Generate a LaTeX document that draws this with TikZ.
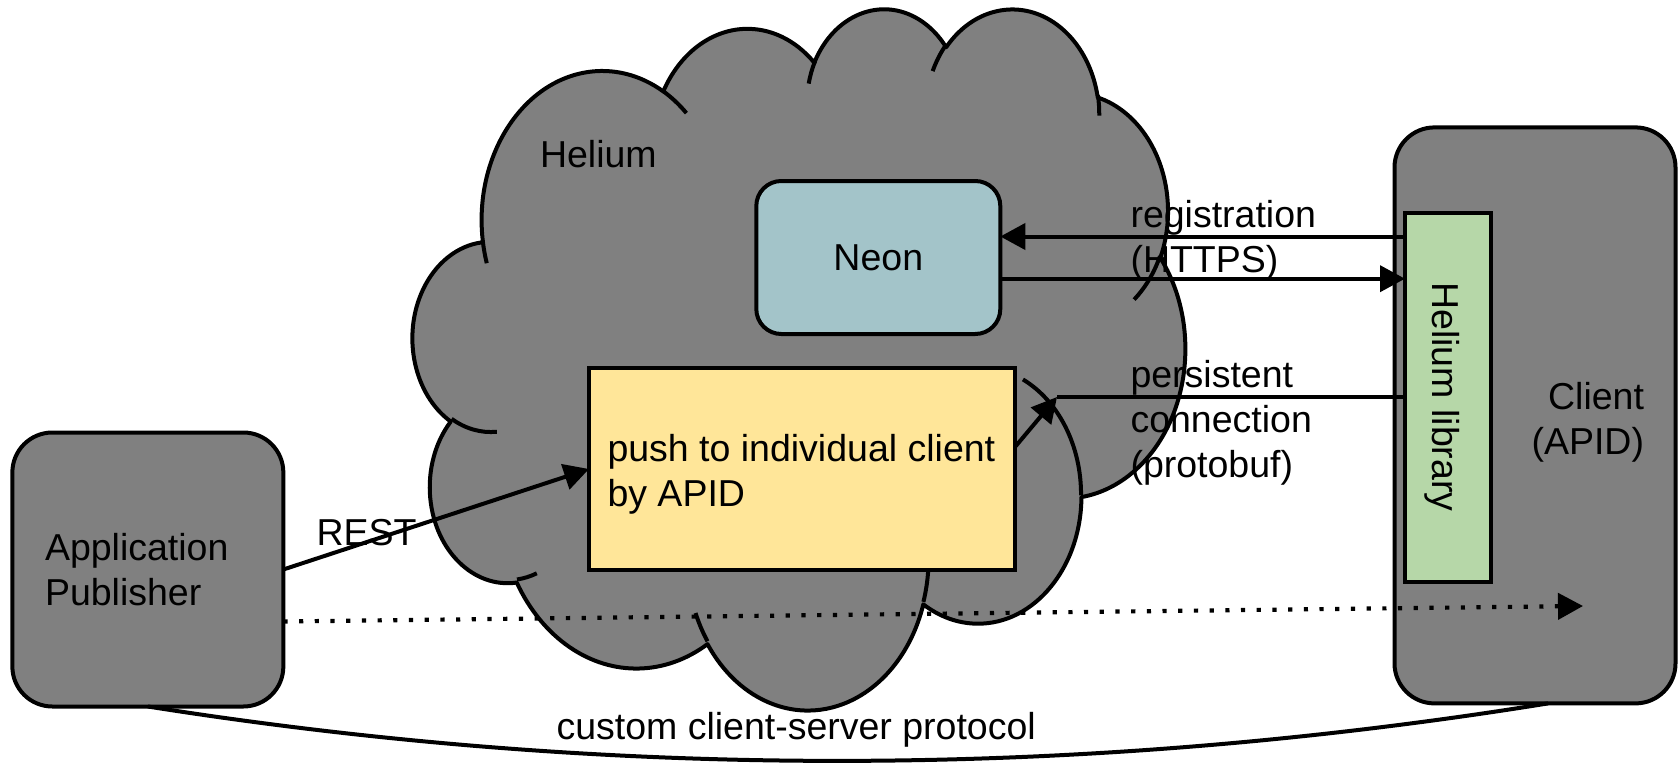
\documentclass[tikz,border=0pt]{standalone}
\usepackage{fontspec}
\setmainfont{Liberation Sans}
\usetikzlibrary{arrows.meta}
\definecolor{cloudgray}{HTML}{808080}
\definecolor{neonfill}{HTML}{A3C4C9}
\definecolor{pushfill}{HTML}{FFE699}
\definecolor{libfill}{HTML}{B6D7A8}
% visual angle -> parametric angle for an elliptic arc
\newcommand\cloudang[5]{%
  \pgfmathsetmacro\tmpts{atan2((#2)*sin(#4),(#3)*cos(#4))}%
  \pgfmathsetmacro\tmpte{atan2((#2)*sin((#4)+(#5)),(#3)*cos((#4)+(#5)))}%
  \pgfmathsetmacro\tmpdd{mod(\tmpte-\tmpts+720,360)}%
  \expandafter\let\csname ts#1\endcsname\tmpts
  \expandafter\let\csname dd#1\endcsname\tmpdd}
\begin{document}
\begin{tikzpicture}[x=1pt,y=-1pt,
  every node/.style={font=\fontsize{37.5}{45}\selectfont, inner sep=0pt, outer sep=0pt},
  outl/.style={line width=4pt, draw=black},
  graybox/.style={outl, fill=cloudgray, rounded corners=40pt},
  neonbox/.style={outl, fill=neonfill, rounded corners=25pt},
  pushbox/.style={outl, fill=pushfill},
  libbox/.style={outl, fill=libfill},
  arr/.style={line width=4pt, -{Triangle[length=25pt,width=26pt]}},
  plain/.style={line width=4pt},
  dotarr/.style={line width=4.2pt, dash pattern=on 4.2pt off 11.5pt, -{Triangle[length=25pt,width=26pt]}},
  lbl/.style={anchor=base west, align=left}
]
\useasboundingbox (0,0) rectangle (1678,768);

% angles of the cloud arcs (outline a..k, hooks l..v)
\cloudang{a}{675.3}{919.0}{-190.48748}{123.78053}
\cloudang{b}{533.3}{726.7}{-144.10238}{89.94523}
\cloudang{c}{436.5}{594.5}{-145.80792}{99.72302}
\cloudang{d}{485.7}{659.5}{-130.98607}{117.24173}
\cloudang{e}{533.3}{727.3}{-78.70888}{109.02692}
\cloudang{f}{677.5}{922.0}{-46.26725}{130.269}
\cloudang{g}{578.5}{786.7}{0.62502}{114.03333}
\cloudang{h}{675.2}{921.5}{22.4516}{115.17255}
\cloudang{i}{772.0}{1054.3}{66.24263}{75.71102}
\cloudang{j}{436.0}{591.8}{-274.94208}{146.73557}
\cloudang{k}{434.5}{594.5}{-246.8285}{152.51885}
\cloudang{l}{434.5}{594.5}{86.742}{26.4295}
\cloudang{m}{436.0}{591.8}{73.6105}{11.4475}
\cloudang{n}{675.2}{921.5}{137.6242}{14.0811}
\cloudang{o}{675.2}{921.5}{6.4533}{15.9984}
\cloudang{p}{578.5}{786.7}{-70.2924}{70.9174}
\cloudang{q}{533.3}{727.3}{30.3180}{27.7515}
\cloudang{r}{485.7}{659.5}{-13.7443}{14.8589}
\cloudang{s}{485.7}{659.5}{-149.1815}{18.1954}
\cloudang{t}{436.5}{594.5}{-163.4943}{17.6864}
\cloudang{u}{675.3}{919.0}{-66.7070}{12.3194}
\cloudang{v}{675.3}{919.0}{157.6544}{11.8582}

% cloud
\begin{scope}[shift={(413,7)}, xscale=0.178704, yscale=0.162269]
\filldraw[outl, fill=cloudgray, line join=round] (390,1437)
  arc[x radius=675.3, y radius=919.0, start angle=\tsa, delta angle=\dda]
  arc[x radius=533.3, y radius=726.7, start angle=\tsb, delta angle=\ddb]
  arc[x radius=436.5, y radius=594.5, start angle=\tsc, delta angle=\ddc]
  arc[x radius=485.7, y radius=659.5, start angle=\tsd, delta angle=\ddd]
  arc[x radius=533.3, y radius=727.3, start angle=\tse, delta angle=\dde]
  arc[x radius=677.5, y radius=922.0, start angle=\tsf, delta angle=\ddf]
  arc[x radius=578.5, y radius=786.7, start angle=\tsg, delta angle=\ddg]
  arc[x radius=675.2, y radius=921.5, start angle=\tsh, delta angle=\ddh]
  arc[x radius=772.0, y radius=1054.3, start angle=\tsi, delta angle=\ddi]
  arc[x radius=436.0, y radius=591.8, start angle=\tsj, delta angle=\ddj]
  arc[x radius=434.5, y radius=594.5, start angle=\tsk, delta angle=\ddk]
  -- cycle;
\draw[outl] (469.3,2617.7) arc[x radius=434.5, y radius=594.5, start angle=\tsl, delta angle=\ddl];
\draw[outl] (692.8,3489.9) arc[x radius=436.0, y radius=591.8, start angle=\tsm, delta angle=\ddm];
\draw[outl] (1647.8,3909.0) arc[x radius=675.2, y radius=921.5, start angle=\tsn, delta angle=\ddn];
\draw[outl] (2882.7,3475.1) arc[x radius=675.2, y radius=921.5, start angle=\tso, delta angle=\ddo];
\draw[outl] (3412.9,2295.4) arc[x radius=578.5, y radius=786.7, start angle=\tsp, delta angle=\ddp];
\draw[outl] (4179.8,1535.4) arc[x radius=533.3, y radius=727.3, start angle=\tsq, delta angle=\ddq];
\draw[outl] (3832.4,542.6) arc[x radius=485.7, y radius=659.5, start angle=\tsr, delta angle=\ddr];
\draw[outl] (2907.8,395.2) arc[x radius=485.7, y radius=659.5, start angle=\tss, delta angle=\dds];
\draw[outl] (2214.1,472.0) arc[x radius=436.5, y radius=594.5, start angle=\tst, delta angle=\ddt];
\draw[outl] (1400.0,519.2) arc[x radius=675.3, y radius=919.0, start angle=\tsu, delta angle=\ddu];
\draw[outl] (412.7,1578.9) arc[x radius=675.3, y radius=919.0, start angle=\tsv, delta angle=\ddv];
\end{scope}

\node[lbl] (heliumtxt) at (540,167) {Helium};

% boxes
\node[neonbox, minimum width=244pt, minimum height=153pt] (neon) at (878.3,257.5) {Neon};
\node[pushbox, minimum width=426pt, minimum height=202pt] (push) at (802,469) {};
\node[lbl] (pushtxt) at (607.5,506) {push to individual client\\by APID};
\node[graybox, minimum width=271pt, minimum height=274pt] (app) at (147.85,569.5) {};
\node[lbl] (apptxt) at (45,605) {Application\\Publisher};
\node[graybox, minimum width=281pt, minimum height=576pt] (client) at (1535,415.4) {};
\node[anchor=base east, align=right] (clienttxt) at (1644,454) {Client\\(APID)};
\node[libbox, minimum width=86pt, minimum height=369pt] (lib) at (1448,397) {};
\node[rotate=-90] (libtxt) at ([xshift=-6pt]lib.center) {Helium library};

% connectors
\coordinate (regup) at (0,236.5);
\coordinate (regdown) at (0,278.7);
\draw[arr] (regup -| lib.west) -- (regup -| neon.east);
\draw[arr] (regdown -| neon.east) -- (regdown -| lib.west);
\coordinate (elbow) at (1057,397);
\draw[arr] ([yshift=22pt]push.east) -- (elbow);
\draw[plain] (elbow) -- (elbow -| lib.west);
\draw[arr] (app.east) -- (push.west);
\coordinate (dotend) at (1583,606);
\draw[dotarr] ([yshift=-52pt]app.east) -- (dotend);
\draw[plain] (app.south) .. controls (613,780) and (1080,779) .. ([xshift=13pt]client.south);

% labels
\node[lbl] (regtxt) at (1130.5,272) {registration\\(HTTPS)};
\node[lbl] (perstxt) at (1130.5,477) {persistent\\connection\\(protobuf)};
\node[lbl] (resttxt) at (316.5,545) {REST};
\node[lbl] (customtxt) at (556.5,739) {custom client-server protocol};
\end{tikzpicture}
\end{document}
